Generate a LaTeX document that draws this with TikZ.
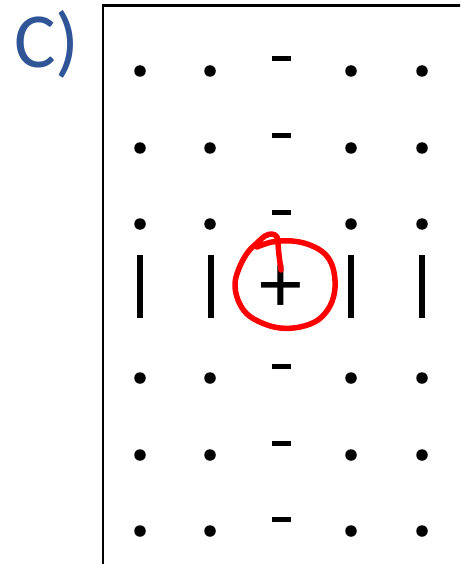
\documentclass[tikz,border=0pt]{standalone}
\usepackage{fontspec}
\setmainfont{Carlito}
\definecolor{cblue}{HTML}{2F5597}
\definecolor{penred}{HTML}{FF0000}
\begin{document}
\begin{tikzpicture}[x=1pt,y=-1pt,
  dotm/.style={circle,fill=black,inner sep=0pt,minimum size=11.5pt},
  dashm/.style={rectangle,fill=black,inner sep=0pt,minimum width=19pt,minimum height=5pt},
  barm/.style={rectangle,fill=black,inner sep=0pt,minimum width=6pt,minimum height=63pt},
  bigtext/.style={inner sep=0pt,font=\fontsize{78}{78}\selectfont},
  frameline/.style={line width=2.8pt,draw=black},
  pen/.style={line width=5.5pt,draw=penred,line cap=round,line join=round}]
\useasboundingbox (0,0) rectangle (460,564);
\clip (0,0) rectangle (460,564);
% label
\node[bigtext,text=cblue,anchor=base west] (lbl) at (14,68) {C)};
% frame
\coordinate (fbl) at (103,570);
\coordinate (ftl) at (103,5.5);
\coordinate (ftr) at (470,5.5);
\draw[frameline] (fbl) -- (ftl) -- (ftr);
% dots and dashes
\foreach \r/\y in {1/71,2/148,3/224,5/378,6/455,7/531}{
  \foreach \c/\x in {1/140,2/210,4/351,5/422}{
    \node[dotm] (d\r\c) at (\x,\y) {};
  }
  \node[dashm] (m\r) at (281.5,\y-12) {};
}
% bars
\foreach \c/\x in {1/140,2/211,4/351,5/422}{
  \node[barm] (b\c) at (\x,286.5) {};
}
% plus
\node[inner sep=0pt,font=\fontsize{86}{86}\selectfont] (plus) at (281,289) {+};
% red loop
\draw[pen] plot[smooth,tension=0.6] coordinates {
 (281,270) (279,255) (278,244) (277,237) (272,234) (265,236) (257,243)
 (248,252) (240,266) (235,283) (238,300) (247,314) (262,323) (280,328)
 (300,327) (318,320) (330,306) (335,288) (333,268) (325,254) (310,245)
 (292,241) (272,242) (257,247)};
\end{tikzpicture}
\end{document}
